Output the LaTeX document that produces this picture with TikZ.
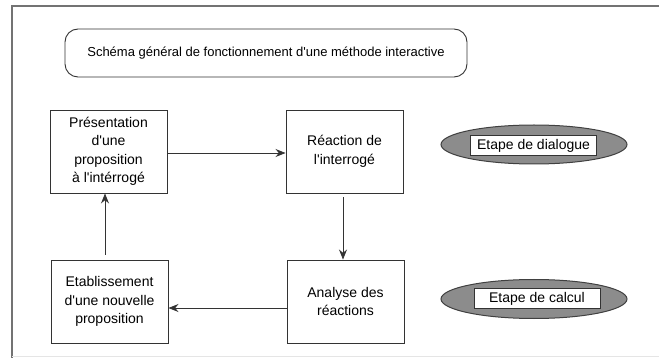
\documentclass[tikz,border=0pt]{standalone}
\usepackage{fontspec}
\setmainfont{Liberation Sans}
\usetikzlibrary{shapes.geometric, arrows.meta, positioning}

\newcommand{\ap}{\textquotesingle}

\begin{document}
\begin{tikzpicture}[x=1pt, y=-1pt,
  stepbox/.style={draw=black!80, line width=0.9pt, minimum width=117pt, minimum height=83pt,
    align=center, inner sep=0pt, font=\fontsize{14}{18.5}\selectfont},
  phase/.style={ellipse, draw=black!75, line width=1pt, fill=black!45, minimum width=186pt, minimum height=39pt},
  phasetxt/.style={draw=black!80, line width=0.8pt, fill=white, minimum width=126pt, minimum height=20pt,
    inner sep=0pt, font=\fontsize{14}{16}\selectfont},
  flow/.style={line width=0.9pt, draw=black!80, -{Stealth[length=10pt, width=8pt]}}]

  \useasboundingbox (0,0) rectangle (659,358);

  % frame
  \draw[black!55, line width=1.2pt] (659,6) -- (12,6) -- (12,358);
  \draw[black!10, line width=1pt] (12,356.5) -- (659,356.5);

  \node[draw=black!80, line width=0.9pt, rounded corners=13pt, minimum width=402pt, minimum height=48pt,
    font=\fontsize{13}{15}\selectfont] (title) at (266,53) {Schéma général de fonctionnement d\ap une méthode interactive};

  \node[stepbox] (pres) at (108.5,151.5) {Présentation\\d\ap une\\proposition\\à l\ap intérrogé};
  \node[stepbox] (reac) at (344.5,151.5) {Réaction de\\l\ap interrogé};
  \node[stepbox] (etab) at (109.5,301.5) {Etablissement\\d\ap une nouvelle\\proposition};
  \node[stepbox] (anal) at (345.5,301.5) {Analyse des\\réactions};

  \node[phase] (dlg) at (534,144.5) {};
  \node[phasetxt] (dlgtxt) at (533.5,145.5) {Etape de dialogue};
  \node[phase] (calc) at (534,299) {};
  \node[phasetxt] (calctxt) at (537,298.5) {Etape de calcul};

  \draw[flow] ([yshift=-1.5pt]pres.east) -- ([yshift=-1.5pt]reac.west);
  \draw[flow, shorten <=4pt] ([xshift=-1.5pt]reac.south) -- ([xshift=-2.5pt]anal.north);
  \draw[flow] ([yshift=-6.5pt]anal.west) -- ([yshift=-6.5pt]etab.east);
  \draw[flow, shorten <=5pt] ([xshift=-4.5pt]etab.north) -- ([xshift=-3.5pt]pres.south);

\end{tikzpicture}
\end{document}
